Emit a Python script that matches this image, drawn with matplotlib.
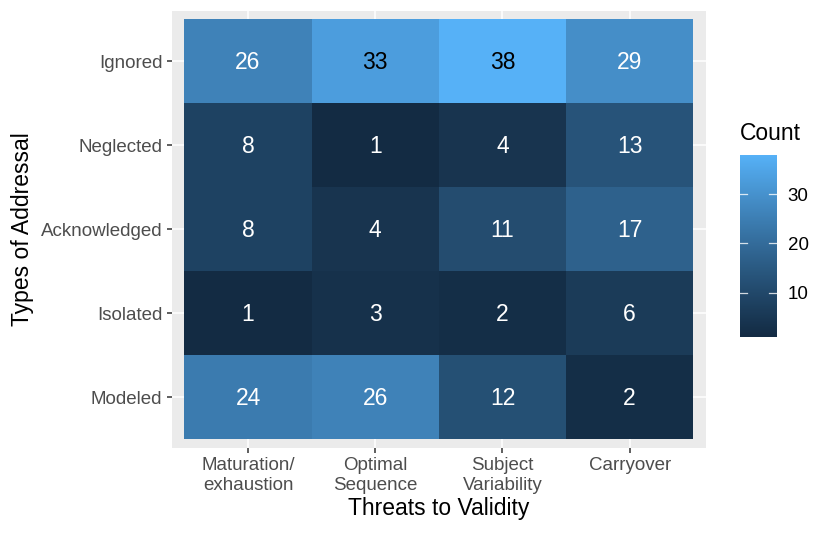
import numpy as np
import matplotlib
matplotlib.use("Agg")
import matplotlib.pyplot as plt
import matplotlib.transforms as mtransforms
from matplotlib.colors import ListedColormap, Normalize

threats = ["Maturation/\nexhaustion", "Optimal\nSequence", "Subject\nVariability", "Carryover"]
addressal = ["Ignored", "Neglected", "Acknowledged", "Isolated", "Modeled"]
counts = [
    [26, 33, 38, 29],
    [8, 1, 4, 13],
    [8, 4, 11, 17],
    [1, 3, 2, 6],
    [24, 26, 12, 2],
]
legend_ticks = [10, 20, 30]

plt.rcParams['font.family'] = ['Liberation Sans', 'DejaVu Sans']

# ggplot2 default gradient (#132B43 -> #56B1F7) interpolated in Lab
def srgb_to_lab(rgb):
    rgb = np.asarray(rgb, float)
    lin = np.where(rgb <= 0.04045, rgb / 12.92, ((rgb + 0.055) / 1.055) ** 2.4)
    M = np.array([[0.4124564, 0.3575761, 0.1804375],
                  [0.2126729, 0.7151522, 0.0721750],
                  [0.0193339, 0.1191920, 0.9503041]])
    xyz = M @ lin
    wp = np.array([0.95047, 1.0, 1.08883])
    t = xyz / wp
    f = np.where(t > 216 / 24389, np.cbrt(t), (24389 / 27 * t + 16) / 116)
    return np.array([116 * f[1] - 16, 500 * (f[0] - f[1]), 200 * (f[1] - f[2])])

def lab_to_srgb(lab):
    L, a, b = lab
    fy = (L + 16) / 116
    fx = fy + a / 500
    fz = fy - b / 200
    def finv(f):
        return np.where(f ** 3 > 216 / 24389, f ** 3, (116 * f - 16) / (24389 / 27))
    wp = np.array([0.95047, 1.0, 1.08883])
    xyz = np.array([finv(fx), finv(fy), finv(fz)]) * wp
    Minv = np.array([[3.2404542, -1.5371385, -0.4985314],
                     [-0.9692660, 1.8760108, 0.0415560],
                     [0.0556434, -0.2040259, 1.0572252]])
    lin = Minv @ xyz
    lin = np.clip(lin, 0, 1)
    rgb = np.where(lin <= 0.0031308, 12.92 * lin, 1.055 * lin ** (1 / 2.4) - 0.055)
    return np.clip(rgb, 0, 1)

low = matplotlib.colors.to_rgb("#132B43")
high = matplotlib.colors.to_rgb("#56B1F7")
l1, l2 = srgb_to_lab(low), srgb_to_lab(high)
cols = [lab_to_srgb(l1 + (l2 - l1) * t) for t in np.linspace(0, 1, 256)]
cmap = ListedColormap(cols)

data = np.array(counts)
vmin, vmax = data.min(), data.max()
norm = Normalize(vmin=vmin, vmax=vmax)

W, H = 830, 535
fig = plt.figure(figsize=(W / 100, H / 100), dpi=100)

def rect(x0, y0, x1, y1):
    return [x0 / W, 1 - y1 / H, (x1 - x0) / W, (y1 - y0) / H]

ax = fig.add_axes(rect(171.7, 11, 706, 447.7))
ax.set_facecolor("#EBEBEB")
nrow, ncol = data.shape
ax.pcolormesh(np.arange(ncol + 1) - 0.5, np.arange(nrow + 1) - 0.5, data[::-1],
              cmap=cmap, norm=norm, zorder=2)
ax.set_xlim(-0.6, ncol - 0.4)
ax.set_ylim(-0.6, nrow - 0.4)
ax.set_xticks(range(ncol))
ax.set_xticklabels(threats)
ax.set_yticks(range(nrow))
ax.set_yticklabels(addressal[::-1])
ax.grid(True, color="white", linewidth=1.1, zorder=0)
ax.set_axisbelow(True)
for s in ax.spines.values():
    s.set_visible(False)
ax.tick_params(axis="both", colors="#333333", length=3.8, width=1.1,
               labelsize=13.5, labelcolor="#4D4D4D", pad=3)
for lab in ax.get_xticklabels():
    lab.set_linespacing(1.25)
ax.set_xlabel("Threats to Validity", fontsize=16.5, labelpad=2)
ax.set_ylabel("Types of Addressal", fontsize=16.5, labelpad=5)

txt_tr = mtransforms.offset_copy(ax.transData, fig=fig, x=0, y=-1.5, units="dots")
for i in range(nrow):
    for j in range(ncol):
        v = data[i, j]
        ax.text(j, nrow - 1 - i, str(v), ha="center", va="center", transform=txt_tr,
                fontsize=16.5, color="black" if v > 30 else "white", zorder=3)

# colorbar legend
cax = fig.add_axes(rect(740, 155, 776.7, 336.7))
grad = np.linspace(vmin, vmax, 300).reshape(-1, 1)
cax.imshow(grad, cmap=cmap, norm=norm, aspect="auto", origin="lower",
           extent=[0, 1, vmin, vmax])
cax.set_xlim(0, 1)
cax.set_ylim(vmin, vmax)
cax.set_xticks([])
cax.yaxis.tick_right()
cax.set_yticks(legend_ticks)
cax.tick_params(axis="y", length=0, labelsize=13.5, labelcolor="black", pad=8)
for t in legend_ticks:
    cax.plot([0, 0.2], [t, t], color="white", lw=0.9, alpha=0.8)
    cax.plot([0.8, 1], [t, t], color="white", lw=0.9, alpha=0.8)
for s in cax.spines.values():
    s.set_visible(False)
fig.text(740 / W, 1 - 134 / H, "Count", fontsize=16.5, ha="left", va="center")

fig.savefig("out.png", dpi=100)
